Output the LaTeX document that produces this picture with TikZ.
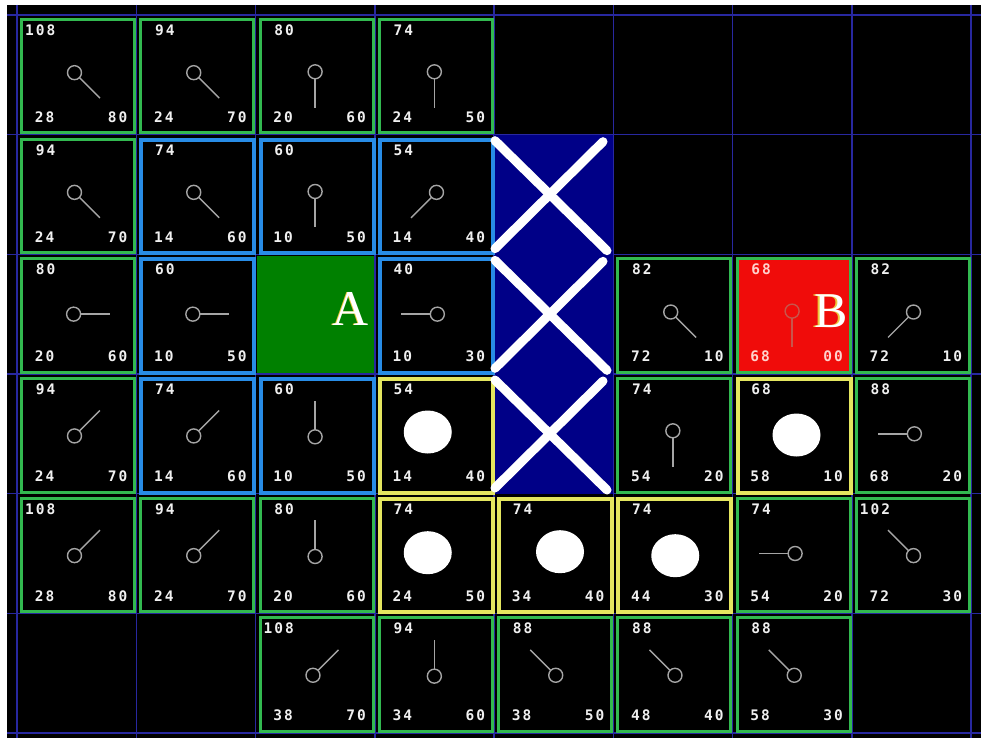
\documentclass[tikz,border=0pt]{standalone}
\usepackage{fontspec}
\newfontfamily\pixfont{DejaVu Sans Mono}[LetterSpace=14]
\newfontfamily\letterfont{Liberation Serif}
\definecolor{gridblue}{RGB}{40,40,160}
\definecolor{opengreen}{RGB}{50,185,80}
\definecolor{closedblue}{RGB}{40,140,230}
\definecolor{pathyellow}{RGB}{228,230,95}
\definecolor{startgreen}{RGB}{0,128,0}
\definecolor{targetred}{RGB}{240,12,10}
\definecolor{wallnavy}{RGB}{0,0,135}
\definecolor{ptrgray}{RGB}{165,165,165}
\definecolor{numwhite}{RGB}{240,240,240}
\definecolor{bptr}{RGB}{200,85,75}
\definecolor{bnum}{RGB}{255,210,205}
\definecolor{letshadow}{RGB}{235,200,60}
\tikzset{
  cellnode/.style={inner sep=0pt, minimum width=113pt, minimum height=113.5pt, anchor=north west},
  openbox/.style={draw=opengreen, line width=3pt},
  closedbox/.style={draw=closedblue, line width=4pt},
  pathbox/.style={draw=pathyellow, line width=4pt},
  num/.style={text=numwhite, font=\pixfont\bfseries\fontsize{14.5}{14.5}\selectfont, inner sep=0pt},
  gridline/.style={draw=gridblue, line width=1.5pt},
  ptrline/.style={line width=1.4pt},
  crossline/.style={draw=white, line width=9pt, line cap=round},
  bigletter/.style={font=\letterfont\fontsize{50}{50}\selectfont, inner sep=0pt}
}
\newcommand\ptrmark[3][ptrgray]{%
  \pgfmathsetmacro\pux{(#2)/veclen(#2,#3)}%
  \pgfmathsetmacro\puy{(#3)/veclen(#2,#3)}%
  \draw[#1, ptrline] (59.6-3*\pux, 59.8-3*\puy) circle[radius=7];
  \draw[#1, ptrline] (59.6+4*\pux, 59.8+4*\puy) -- (59.6+33*\pux, 59.8+33*\puy);}
\newcommand\pathdot[2]{\fill[white] (#1,#2) ellipse[x radius=24, y radius=21.5];}
\newcommand\cellbox[7]{%
  \begin{scope}[shift={(17+119.25*#1,15+119.67*#2)}]
    \node[cellnode,#3] (c#1#2) at (3,3) {};
    \node[num, anchor=base east] (f#1#2) at (38.5,20.5) {#4};
    \node[num, anchor=base east] (g#1#2) at (37.5,107.5) {#5};
    \node[num, anchor=base east] (h#1#2) at (110.5,107.5) {#6};
    #7
  \end{scope}}
\begin{document}
\begin{tikzpicture}[x=1pt,y=-1pt]
\useasboundingbox (0,0) rectangle (981,738);
\fill[white] (0,0) rectangle (981,738);
\fill[black] (7,5) rectangle (981,738);
% grid
\foreach \k in {0,...,8} \draw[gridline] (17+119.25*\k,5) -- (17+119.25*\k,738);
\foreach \k in {0,...,6} \draw[gridline] (7,15+119.67*\k) -- (981,15+119.67*\k);
% wall
\fill[wallnavy] (494,134.67) rectangle (613.25,493.68);
% row 0
\cellbox{0}{0}{openbox}{108}{28}{80}{\ptrmark{1}{1}}
\cellbox{1}{0}{openbox}{94}{24}{70}{\ptrmark{1}{1}}
\cellbox{2}{0}{openbox}{80}{20}{60}{\ptrmark{0}{1}}
\cellbox{3}{0}{openbox}{74}{24}{50}{\ptrmark{0}{1}}
% row 1
\cellbox{0}{1}{openbox}{94}{24}{70}{\ptrmark{1}{1}}
\cellbox{1}{1}{closedbox}{74}{14}{60}{\ptrmark{1}{1}}
\cellbox{2}{1}{closedbox}{60}{10}{50}{\ptrmark{0}{1}}
\cellbox{3}{1}{closedbox}{54}{14}{40}{\ptrmark{-1}{1}}
% row 2
\cellbox{0}{2}{openbox}{80}{20}{60}{\ptrmark{1}{0}}
\cellbox{1}{2}{closedbox}{60}{10}{50}{\ptrmark{1}{0}}
\begin{scope}[shift={(17+119.25*2,15+119.67*2)}]
  \node[inner sep=0pt, fill=startgreen, minimum width=117pt, minimum height=117pt, anchor=north west] (cA) at (1,1) {};
\end{scope}
\node[bigletter, text=letshadow] (labAs) at (349.5,308.5) {A};
\node[bigletter, text=white] (labA) at (351,308.5) {A};
\cellbox{3}{2}{closedbox}{40}{10}{30}{\ptrmark{-1}{0}}
\cellbox{5}{2}{openbox}{82}{72}{10}{\ptrmark{1}{1}}
\begin{scope}[shift={(17+119.25*6,15+119.67*2)}]
  \node[cellnode, openbox, fill=targetred] (cB) at (3,3) {};
  \node[num, text=bnum, anchor=base east] (fB) at (38.5,20.5) {68};
  \node[num, text=bnum, anchor=base east] (gB) at (37.5,107.5) {68};
  \node[num, text=bnum, anchor=base east] (hB) at (110.5,107.5) {00};
  \ptrmark[bptr]{0}{1}
\end{scope}
\node[bigletter, text=letshadow] (labBs) at (829.5,311) {B};
\node[bigletter, text=white] (labB) at (831,311) {B};
\cellbox{7}{2}{openbox}{82}{72}{10}{\ptrmark{-1}{1}}
% row 3
\cellbox{0}{3}{openbox}{94}{24}{70}{\ptrmark{1}{-1}}
\cellbox{1}{3}{closedbox}{74}{14}{60}{\ptrmark{1}{-1}}
\cellbox{2}{3}{closedbox}{60}{10}{50}{\ptrmark{0}{-1}}
\cellbox{3}{3}{pathbox}{54}{14}{40}{\pathdot{53}{58}}
\cellbox{5}{3}{openbox}{74}{54}{20}{\ptrmark{0}{1}}
\cellbox{6}{3}{pathbox}{68}{58}{10}{\pathdot{64}{61}}
\cellbox{7}{3}{openbox}{88}{68}{20}{\ptrmark{-1}{0}}
% row 4
\cellbox{0}{4}{openbox}{108}{28}{80}{\ptrmark{1}{-1}}
\cellbox{1}{4}{openbox}{94}{24}{70}{\ptrmark{1}{-1}}
\cellbox{2}{4}{openbox}{80}{20}{60}{\ptrmark{0}{-1}}
\cellbox{3}{4}{pathbox}{74}{24}{50}{\pathdot{53}{59}}
\cellbox{4}{4}{pathbox}{74}{34}{40}{\pathdot{66}{58}}
\cellbox{5}{4}{pathbox}{74}{44}{30}{\pathdot{62}{62}}
\cellbox{6}{4}{openbox}{74}{54}{20}{\ptrmark{-1}{0}}
\cellbox{7}{4}{openbox}{102}{72}{30}{\ptrmark{-1}{-1}}
% row 5
\cellbox{2}{5}{openbox}{108}{38}{70}{\ptrmark{1}{-1}}
\cellbox{3}{5}{openbox}{94}{34}{60}{\ptrmark{0}{-1}}
\cellbox{4}{5}{openbox}{88}{38}{50}{\ptrmark{-1}{-1}}
\cellbox{5}{5}{openbox}{88}{48}{40}{\ptrmark{-1}{-1}}
\cellbox{6}{5}{openbox}{88}{58}{30}{\ptrmark{-1}{-1}}
% crosses on the wall
\foreach \r in {1,2,3} {
  \draw[crossline] (495,15+119.67*\r+6) -- (607,15+119.67*\r+116);
  \draw[crossline] (603,15+119.67*\r+7) -- (495,15+119.67*\r+114);
}
\end{tikzpicture}
\end{document}
